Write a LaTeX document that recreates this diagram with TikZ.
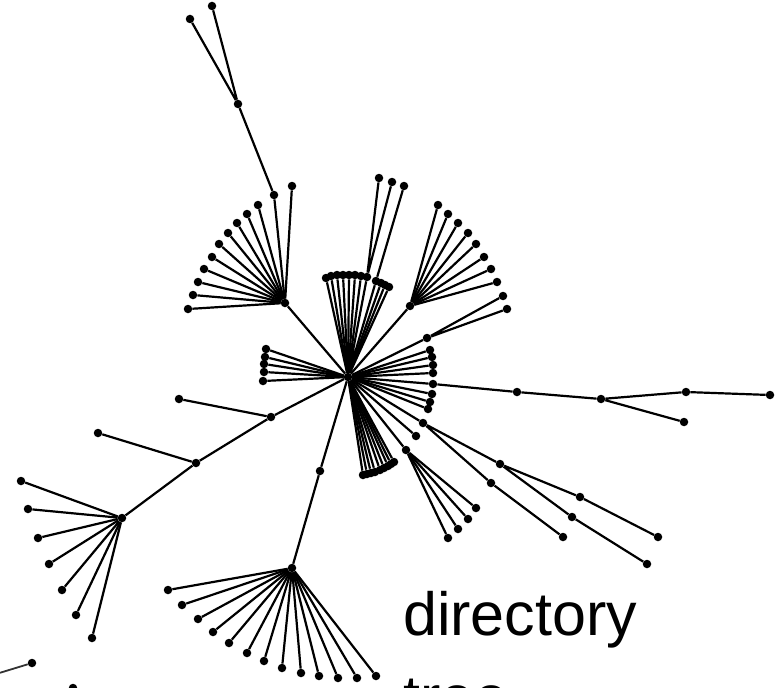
\documentclass[tikz,border=0pt]{standalone}
\usepackage{fontspec}
\setmainfont{Liberation Sans}
\begin{document}
\begin{tikzpicture}[x=1pt,y=-1pt,
  dot/.style={circle,fill=black,draw=none,inner sep=0pt,minimum size=8.5pt},
  edge/.style={line width=2.2pt,black},
  lbl/.style={anchor=base west,inner sep=0pt,font=\fontsize{61}{73}\selectfont}]
\useasboundingbox (0,0) rectangle (783,687);
\clip (0,0) rectangle (783,687);
% centre
\node[dot] (C) at (348,377) {};
% upper-left fan
\node[dot] (a) at (285,303) {};
\draw[edge] (C) -- (a);
\node[dot] (a2) at (274,195) {};
\draw[edge] (a) -- (a2);
\foreach \x/\y [count=\i] in {292/186,258/205,247/214,237/223,228/233,219/244,212/257,204/269,198/282,193/295,188/309}
  {\node[dot] (al\i) at (\x,\y) {}; \draw[edge] (a) -- (al\i);}
\node[dot] (t1) at (238,104) {};
\node[dot] (t2) at (190,19) {};
\node[dot] (t3) at (212,6) {};
\draw[edge] (a2) -- (t1) (t1) -- (t2) (t1) -- (t3);
% top-centre fan
\foreach \x/\y [count=\i] in {326/278,331/276,337/275,343/275,349/275,355/275,361/276,381/283,385/285,389/287}
  {\node[dot] (bl\i) at (\x,\y) {}; \draw[edge] (C) -- (bl\i);}
\node[dot] (b1) at (367,277) {};
\node[dot] (b2) at (376,281) {};
\draw[edge] (C) -- (b1) (C) -- (b2);
\node[dot] (b1a) at (379,178) {};
\node[dot] (b1b) at (392,182) {};
\node[dot] (b2a) at (404,186) {};
\draw[edge] (b1) -- (b1a) (b1) -- (b1b) (b2) -- (b2a);
% upper-right fan
\node[dot] (d) at (410,306) {};
\draw[edge] (C) -- (d);
\foreach \x/\y [count=\i] in {438/205,448/214,458/223,468/233,476/244,484/257,491/269,497/282}
  {\node[dot] (dl\i) at (\x,\y) {}; \draw[edge] (d) -- (dl\i);}
\node[dot] (e) at (427,338) {};
\draw[edge] (C) -- (e);
\node[dot] (e1) at (503,296) {};
\node[dot] (e2) at (507,309) {};
\draw[edge] (e) -- (e1) (e) -- (e2);
% left small fan
\foreach \x/\y [count=\i] in {266/349,265/357,264/364,264/372,263/381}
  {\node[dot] (ll\i) at (\x,\y) {}; \draw[edge] (C) -- (ll\i);}
% right small fan
\foreach \x/\y [count=\i] in {430/350,432/357,433/365,433/373,432/394,430/402,428/409,416/436}
  {\node[dot] (rl\i) at (\x,\y) {}; \draw[edge] (C) -- (rl\i);}
\node[dot] (f1) at (433,384) {};
\node[dot] (f2) at (517,392) {};
\node[dot] (f3) at (601,399) {};
\node[dot] (f4) at (686,392) {};
\node[dot] (f5) at (770,395) {};
\node[dot] (f6) at (684,422) {};
\draw[edge] (C) -- (f1) -- (f2) -- (f3) -- (f4) -- (f5) (f3) -- (f6);
% chains to lower right
\node[dot] (g) at (423,423) {};
\node[dot] (g1) at (500,464) {};
\node[dot] (g2) at (580,497) {};
\node[dot] (g2a) at (658,537) {};
\node[dot] (g3) at (572,517) {};
\node[dot] (g3a) at (647,564) {};
\node[dot] (g4) at (491,483) {};
\node[dot] (g4a) at (563,537) {};
\draw[edge] (C) -- (g) -- (g1) -- (g2) -- (g2a) (g1) -- (g3) -- (g3a) (g) -- (g4) -- (g4a);
% lower-right fan
\node[dot] (h) at (406,450) {};
\draw[edge] (C) -- (h);
\foreach \x/\y [count=\i] in {476/508,468/519,458/529,448/538}
  {\node[dot] (hl\i) at (\x,\y) {}; \draw[edge] (h) -- (hl\i);}
% bottom-centre fan
\foreach \x/\y [count=\i] in {363/475,367/474,371/473,375/472,380/470,384/468,388/466,391/464,394/462}
  {\node[dot] (cl\i) at (\x,\y) {}; \draw[edge] (C) -- (cl\i);}
% lower-left branch
\node[dot] (i1) at (271,417) {};
\node[dot] (i1a) at (179,399) {};
\node[dot] (i2) at (196,463) {};
\node[dot] (i2a) at (98,433) {};
\node[dot] (j) at (122,518) {};
\draw[edge] (C) -- (i1) -- (i1a) (i1) -- (i2) -- (i2a) (i2) -- (j);
\foreach \x/\y [count=\i] in {21/481,28/509,38/538,49/564,62/590,76/615,92/638}
  {\node[dot] (jl\i) at (\x,\y) {}; \draw[edge] (j) -- (jl\i);}
% bottom fan
\node[dot] (k1) at (320,471) {};
\node[dot] (k) at (292,568) {};
\draw[edge] (C) -- (k1) -- (k);
\foreach \x/\y [count=\i] in {168/590,182/605,198/619,213/632,229/643,247/653,264/661,282/668,301/673,319/676,338/678,357/678,376/676}
  {\node[dot] (kl\i) at (\x,\y) {}; \draw[edge] (k) -- (kl\i);}
% bottom-left corner fragments
\node[dot] (m1) at (32,663) {};
\coordinate (m0) at (-4,674);
\draw[edge,line width=1.8pt,black!80] (m1) -- (m0);
\node[dot] (m2) at (73,688) {};
% label
\node[lbl] (txt1) at (403,635) {directory};
\node[lbl] (txt2) at (403,718) {tree};
\end{tikzpicture}
\end{document}
